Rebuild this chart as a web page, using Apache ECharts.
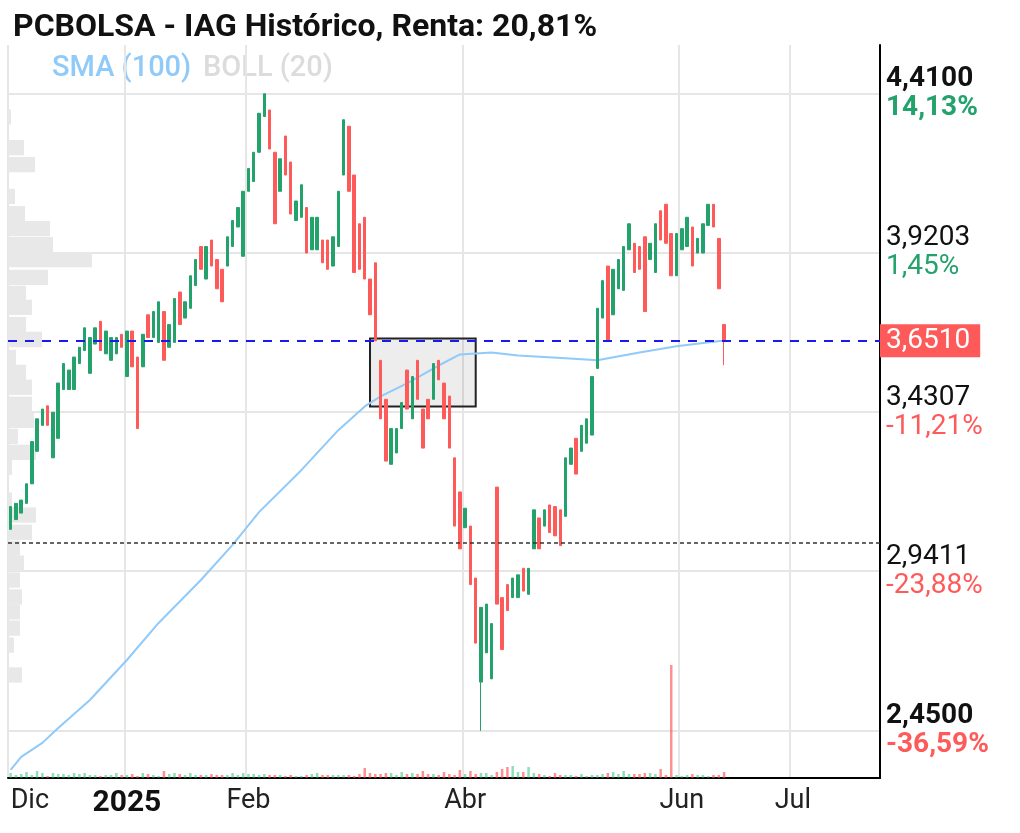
<!doctype html>
<html lang="es">
<head>
<meta charset="utf-8">
<title>PCBOLSA - IAG Histórico</title>
<script src="https://cdn.jsdelivr.net/npm/echarts@6/dist/echarts.min.js"></script>
<style>
  html,body{margin:0;background:#fff}
  #chart{width:1020px;height:833px}
</style>
</head>
<body>
<div id="chart"></div>
<script>
// daily candles, Dec 2024 -> Jun 2025
const opens = [
  3.07,3.10,3.12,3.15,3.21,3.31,3.39,3.45,3.29,3.35, 3.50,3.50,3.50,3.58,3.62,3.55,3.64,3.71,3.61,3.59,
  3.61,3.67,3.54,3.68,3.60,3.57,3.73,3.66,3.645,3.74, 3.63,3.645,3.80,3.72,3.75,3.82,3.94,3.84,3.96,3.90,
  3.87,3.88,3.94,4.00,3.91,4.11,4.14,4.23,4.34,4.36, 4.23,4.11,4.28,4.20,4.02,4.03,4.06,3.93,3.93,3.96,
  3.96,3.88,3.94,4.16,4.31,4.16,4.01,4.03,3.84,3.89, 3.59,3.47,3.27,3.305,3.38,3.56,3.41,3.59,3.44,3.47,
  3.47,3.59,3.52,3.48,3.29,3.185,3.075,3.08,2.92,2.60, 2.69,2.61,3.20,2.86,2.90,2.86,2.86,2.95,2.87,3.01,
  3.105,3.08,3.145,3.14,3.13,3.11,3.27,3.35,3.31,3.335, 3.36,3.565,3.72,3.88,3.73,3.81,3.805,3.93,3.95,3.94,
  3.97,3.90,3.86,4.05,4.07,3.98,3.85,3.93,3.94,4.00, 3.92,3.92,4.005,4.07,3.965,3.70
];
const closes = [
  3.14,3.15,3.16,3.21,3.34,3.41,3.44,3.39,3.43,3.52, 3.58,3.56,3.60,3.63,3.69,3.66,3.69,3.62,3.68,3.66,
  3.66,3.63,3.68,3.57,3.38,3.67,3.66,3.74,3.77,3.59, 3.70,3.78,3.70,3.77,3.85,3.90,3.87,3.94,3.88,3.81,
  3.77,3.97,4.02,4.06,4.11,4.18,4.23,4.35,4.41,4.24, 4.01,4.21,4.16,4.04,4.08,4.13,3.92,4.03,4.03,3.89,
  3.87,3.97,4.11,4.33,4.11,3.86,3.87,3.84,3.73,3.65, 3.41,3.28,3.38,3.38,3.46,3.44,3.54,3.47,3.32,3.41,
  3.58,3.53,3.41,3.32,3.08,3.01,3.135,2.90,2.72,2.83, 2.84,2.78,2.84,2.70,2.82,2.92,2.93,2.88,2.95,3.13,
  3.01,3.13,3.06,3.05,3.02,3.29,3.32,3.24,3.39,3.41, 3.54,3.75,3.835,3.65,3.87,3.90,3.94,4.01,3.86,3.87,
  3.74,3.95,4.01,3.96,3.95,3.85,3.98,3.995,4.03,3.88, 3.965,4.01,4.07,4.00,3.81,3.651
];
const lowWicks = { 89: 2.45, 135: 3.575 };
const volumes = [
  5,3,4,6,3,7,5,2,5,4, 4,3,5,4,5,3,3,2,3,3, 5,3,3,4,2,5,4,3,2,7,
  4,5,4,3,5,3,3,3,4,3, 3,3,5,3,5,4,4,3,4,3, 3,3,2,3,2,2,3,4,5,3,
  3,3,3,3,3,2,4,10,5,4, 4,5,5,3,6,4,5,4,7,4, 4,3,6,4,3,8,4,7,4,5,
  5,3,6,9,11,12,6,6,11,5, 4,3,2,5,3,3,3,2,4,2, 3,3,4,5,6,4,7,4,4,4,
  5,5,4,9,3,113,3,2,3,4, 3,3,2,3,3,6
];

// SMA(100), sampled along the curve: [candle index, value]
const smaIdx = [0,2,6,9,15,22,28,36,42,47,55,62,67,70,75,81,85,91,96,105,111,119,126,135];
const smaVal = [2.33,2.37,2.413,2.459,2.545,2.668,2.782,2.914,3.022,3.123,3.252,3.375,3.448,3.479,3.519,3.574,3.608,3.614,3.605,3.596,3.59,3.614,3.633,3.651];

// volume profile on the left edge
const profilePrice = [4.339,4.244,4.192,4.094,4.041,3.995,3.946,3.900,3.845,3.796,3.753,3.700,3.654,3.599,3.553,3.507,3.455,3.405,3.356,3.307,3.261,3.160,3.114,3.061,3.012,2.966,2.914,2.862,2.816,2.766,2.714,2.622];
const profileVol   = [3,16,27,7,17,42,45,84,40,18,24,18,34,8,18,24,24,26,10,28,4,4,28,24,12,16,12,14,12,12,6,14];

const tickValues = [2.45, 2.9411, 3.4307, 3.9203, 4.41];
const tickPrices = ['2,4500','2,9411','3,4307','3,9203','4,4100'];
const tickPct    = ['-36,59%','-23,88%','-11,21%','1,45%','14,13%'];

const lastPrice = 3.651;
const supportLine = 3.027;
const boxFrom = 68, boxTo = 88, boxTop = 3.657, boxBottom = 3.448;

const GREEN = '#23a26b', RED = '#ff5a5a';
const FS = 29;
const holidays = ['2025-04-18','2025-04-21','2025-05-01'];
const monthNames = {11:'Dic',0:'2025',1:'Feb',3:'Abr',5:'Jun',6:'Jul'};

// trading-day categories, extended past the last candle for empty space on the right
const dates = [];
{
  const d = new Date(Date.UTC(2024, 11, 2));
  while (dates.length < 165) {
    const s = d.toISOString().slice(0, 10);
    const wd = d.getUTCDay();
    if (wd !== 0 && wd !== 6 && !holidays.includes(s)) dates.push(s);
    d.setUTCDate(d.getUTCDate() + 1);
  }
}
const monthStart = new Set();
dates.forEach((s, i) => {
  const m = +s.slice(5, 7) - 1;
  if ((i === 0 || dates[i - 1].slice(5, 7) !== s.slice(5, 7)) && monthNames[m] !== undefined) monthStart.add(i);
});

const candles = opens.map((o, i) => {
  const c = closes[i];
  const lo = lowWicks[i] !== undefined ? lowWicks[i] : Math.min(o, c);
  return [o, c, lo, Math.max(o, c)];
});
const volData = volumes.map((v, i) => ({
  value: v,
  itemStyle: { color: closes[i] >= opens[i] ? 'rgba(35,190,110,0.5)' : 'rgba(255,70,70,0.6)' }
}));

const YMIN = 2.305, YMAX = 4.56;
const gridBox = { left: 8, right: 140, top: 45, bottom: 55, outerBoundsMode: 'none', containLabel: false };
const chart = echarts.init(document.getElementById('chart'));
chart.setOption({
  animation: false,
  backgroundColor: '#fff',
  title: {
    text: 'PCBOLSA - IAG Histórico, Renta: 20,81%',
    left: 8, top: 7,
    textStyle: { fontFamily: 'Roboto', fontSize: 32, fontWeight: 'bold', color: '#111' }
  },
  graphic: [{
    type: 'text', left: 52, top: 54,
    style: { text: 'SMA (100)', fontFamily: 'Roboto', fontSize: FS, fontWeight: 500, fill: '#90caf9' }
  }, {
    type: 'text', left: 203, top: 54,
    style: { text: 'BOLL (20)', fontFamily: 'Roboto', fontSize: FS, fontWeight: 500, fill: '#dcdcdc' }
  }],
  grid: [Object.assign({}, gridBox), Object.assign({}, gridBox)],
  xAxis: [{
    type: 'category', data: dates, gridIndex: 0,
    axisLine: { lineStyle: { color: '#000', width: 2 } },
    axisTick: { show: false },
    axisLabel: {
      interval: (i) => monthStart.has(i),
      alignMinLabel: 'left',
      margin: 10,
      formatter: (v) => {
        const t = monthNames[+v.slice(5, 7) - 1];
        return t === '2025' ? '{y|2025}' : t;
      },
      fontFamily: 'Roboto', fontSize: FS - 2, color: '#222',
      rich: { y: { fontFamily: 'Roboto', fontSize: FS + 1, fontWeight: 'bold', color: '#111' } }
    },
    splitLine: { show: true, interval: (i) => monthStart.has(i), lineStyle: { color: '#e6e6e6', width: 2 } }
  }, {
    type: 'value', gridIndex: 1, min: 0, max: 872, show: false
  }],
  yAxis: [{
    type: 'value', position: 'right', min: YMIN, max: YMAX, gridIndex: 0,
    axisLine: { show: true, lineStyle: { color: '#000', width: 2 } },
    axisTick: { show: false, customValues: tickValues },
    splitLine: { show: true, lineStyle: { color: '#e6e6e6', width: 2 } },
    axisLabel: {
      customValues: tickValues,
      margin: 6,
      formatter: (v) => {
        const i = tickValues.findIndex(t => Math.abs(t - v) < 1e-6);
        if (i < 0) return '';
        const ext = i === 0 || i === tickValues.length - 1;
        const pc = tickPct[i].startsWith('-') ? 'r' : 'g';
        return `{${ext ? 'pb' : 'p'}|${tickPrices[i]}}\n{${pc}${ext ? 'b' : ''}|${tickPct[i]}}`;
      },
      rich: {
        p: { fontFamily: 'Roboto', fontSize: FS - 1, color: '#111', lineHeight: 29 },
        pb: { fontFamily: 'Roboto', fontSize: FS - 1, fontWeight: 'bold', color: '#111', lineHeight: 29 },
        g: { fontFamily: 'Roboto', fontSize: FS - 1, color: GREEN, lineHeight: 29 },
        gb: { fontFamily: 'Roboto', fontSize: FS - 1, fontWeight: 'bold', color: GREEN, lineHeight: 29 },
        r: { fontFamily: 'Roboto', fontSize: FS - 1, color: RED, lineHeight: 29 },
        rb: { fontFamily: 'Roboto', fontSize: FS - 1, fontWeight: 'bold', color: RED, lineHeight: 29 }
      }
    }
  }, {
    type: 'value', gridIndex: 0, min: 0, max: 733, show: false
  }, {
    type: 'value', gridIndex: 1, min: YMIN, max: YMAX, show: false
  }],
  series: [{
    type: 'custom', name: 'perfil', xAxisIndex: 1, yAxisIndex: 2, silent: true, z: 1,
    data: profilePrice.map((p, i) => [profileVol[i], p]),
    renderItem: (params, api) => {
      const a = api.coord([0, api.value(1) + 0.0235]);
      const b = api.coord([api.value(0), api.value(1) - 0.0235]);
      return { type: 'rect', shape: { x: a[0], y: a[1], width: b[0] - a[0], height: b[1] - a[1] }, style: { fill: '#e8e8e8' } };
    }
  }, {
    type: 'bar', name: 'Volumen', yAxisIndex: 1, data: volData, barWidth: 2.5, z: 2, silent: true
  }, {
    type: 'line', name: 'SMA (100)', data: smaIdx.map((x, i) => [x, smaVal[i]]),
    showSymbol: false, lineStyle: { color: '#90caf9', width: 2 }, z: 3
  }, {
    type: 'candlestick', name: 'IAG', data: candles, barWidth: 3, z: 4,
    itemStyle: { color: GREEN, color0: RED, borderColor: GREEN, borderColor0: RED, borderWidth: 1 },
    markArea: {
      silent: true,
      itemStyle: { color: 'rgba(0,0,0,0.07)', borderColor: '#222', borderWidth: 2 },
      data: [[{ xAxis: boxFrom, yAxis: boxTop }, { xAxis: boxTo, yAxis: boxBottom }]]
    },
    markLine: {
      silent: true, symbol: 'none',
      data: [{
        yAxis: lastPrice,
        lineStyle: { color: '#1a1aee', type: [9, 8], width: 2 },
        label: {
          show: true, position: 'end', distance: 0, formatter: '3,6510',
          backgroundColor: RED, color: '#fff', fontFamily: 'Roboto', fontSize: FS - 1,
          padding: [3, 10, 2, 6]
        }
      }, {
        yAxis: supportLine,
        lineStyle: { color: '#333', type: [4, 3], width: 1.5 },
        label: { show: false }
      }]
    }
  }]
});
</script>
</body>
</html>
